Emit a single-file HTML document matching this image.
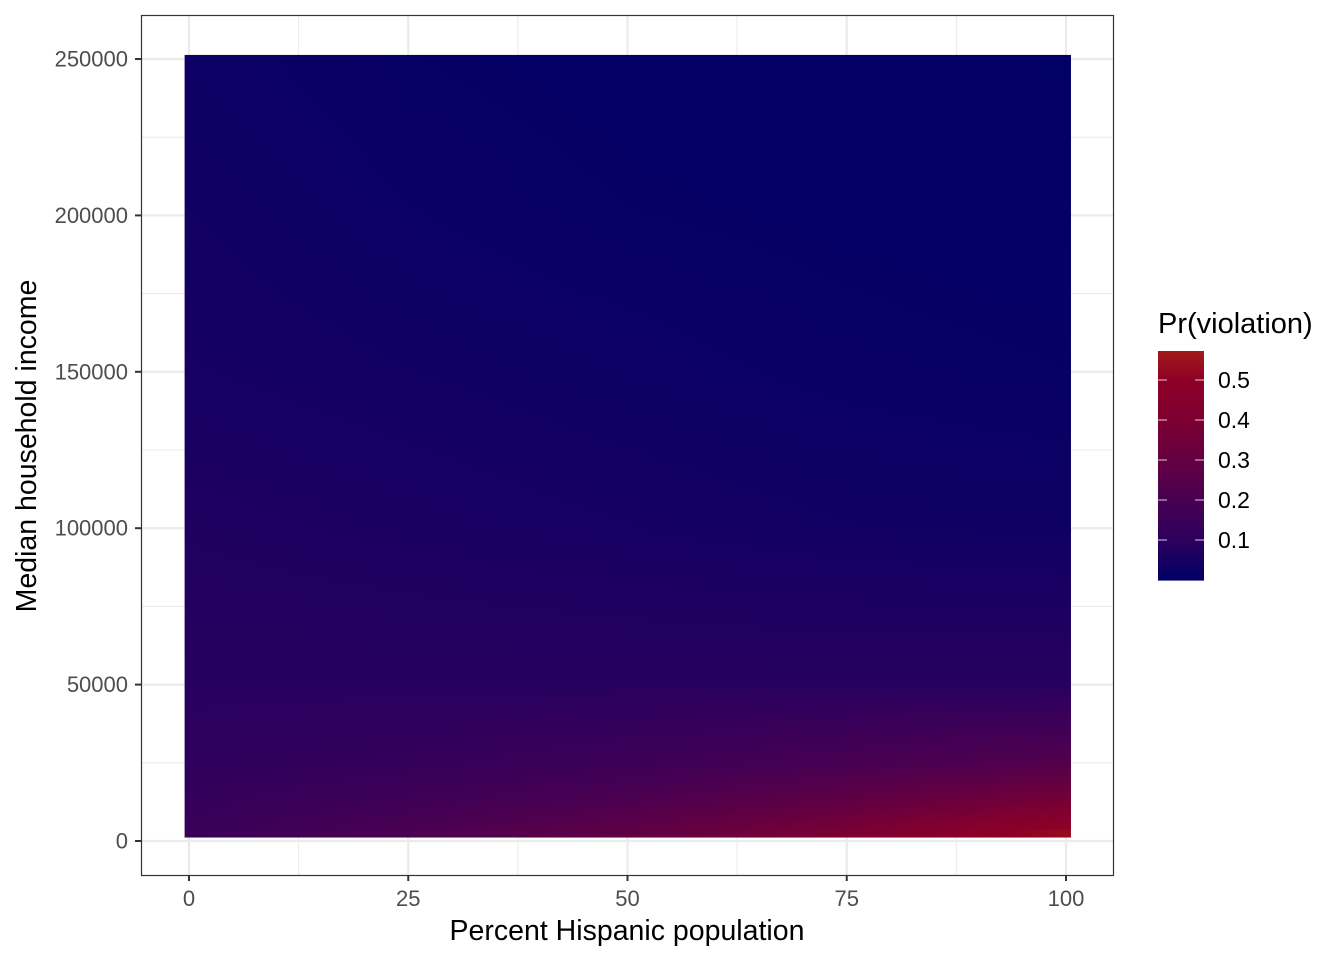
<!DOCTYPE html>
<html><head><meta charset="utf-8"><style>
body{margin:0;background:#fff;font-family:"Liberation Sans",Arial,sans-serif}
</style></head><body>
<svg id="chart" width="1344" height="960" xmlns="http://www.w3.org/2000/svg" font-family="Liberation Sans, Arial, sans-serif">
<rect width="1344" height="960" fill="#fff"/>
<g id="grid"></g>
<g id="tiles"></g>
<rect x="141.5" y="15.5" width="972" height="860" fill="none" stroke="#333" stroke-width="1.2"/>
<g id="axes"></g>
<text x="627" y="940" font-size="28.5" text-anchor="middle" fill="#000">Percent Hispanic population</text>
<text transform="translate(36,446) rotate(-90)" font-size="28.5" text-anchor="middle" fill="#000">Median household income</text>
<g id="legend">
<text x="1158" y="333" font-size="29" fill="#000">Pr(violation)</text>
</g>
</svg>
<script>
const xVals=[0,25,50,75,100];
const yVals=[0,12500,25000,50000,100000,150000,200000,250000];
const prob0=[0.15,0.22,0.30,0.42,0.57];
const prob12500=[0.13,0.17,0.22,0.29,0.38];
const prob25000=[0.11,0.13,0.16,0.20,0.24];
const prob50000=[0.09,0.09,0.09,0.09,0.09];
const prob100000=[0.07,0.06,0.05,0.04,0.035];
const prob150000=[0.05,0.04,0.03,0.02,0.015];
const prob200000=[0.04,0.025,0.015,0.01,0.006];
const prob250000=[0.03,0.015,0.008,0.005,0.003];
const xTicks=[0,25,50,75,100];
const yTicks=[0,50000,100000,150000,200000,250000];
const legendTicks=[0.1,0.2,0.3,0.4,0.5];
const rows=[prob0,prob12500,prob25000,prob50000,prob100000,prob150000,prob200000,prob250000];
const NS="http://www.w3.org/2000/svg";
const sx=v=>189+v*8.77;
const sy=v=>841-v*782/250000;
const stops=[[0,[0,0,102]],[0.1,[44,0,94]],[0.2,[72,0,82]],[0.3,[99,0,66]],[0.4,[124,0,50]],[0.5,[142,0,38]],[0.575,[162,26,26]]];
function col(p){
  for(let i=1;i<stops.length;i++){
    if(p<=stops[i][0]||i===stops.length-1){
      const a=stops[i-1],b=stops[i];let t=(p-a[0])/(b[0]-a[0]);t=Math.max(0,Math.min(1,t));
      return "rgb("+a[1].map((c,k)=>Math.round(c+(b[1][k]-c)*t)).join(",")+")";
    }
  }
}
function seg(arr,v){let i=0;while(i<arr.length-2&&v>arr[i+1])i++;let t=(v-arr[i])/(arr[i+1]-arr[i]);return [i,Math.max(0,Math.min(1,t))];}
function val(x,y){
  const [i,tx]=seg(xVals,x),[j,ty]=seg(yVals,y);
  const a=rows[j][i],b=rows[j][i+1],c=rows[j+1][i],d=rows[j+1][i+1];
  return (a*(1-tx)+b*tx)*(1-ty)+(c*(1-tx)+d*tx)*ty;
}
const grid=document.getElementById('grid');
function line(g,x1,y1,x2,y2,st,w){const l=document.createElementNS(NS,'line');l.setAttribute('x1',x1);l.setAttribute('y1',y1);l.setAttribute('x2',x2);l.setAttribute('y2',y2);l.setAttribute('stroke',st);l.setAttribute('stroke-width',w);g.appendChild(l);return l;}
for(let k=0;k<xTicks.length;k++){
  const gl=line(grid,sx(xTicks[k]),16,sx(xTicks[k]),875,'#ebebeb',2.2);
  
  
  if(k<xTicks.length-1){const m=line(grid,sx((xTicks[k]+xTicks[k+1])/2),16,sx((xTicks[k]+xTicks[k+1])/2),875,'#ebebeb',1.1);
  
  }
}
for(let k=0;k<yTicks.length;k++){
  const gl=line(grid,142,sy(yTicks[k]),1113,sy(yTicks[k]),'#ebebeb',2.2);
  
  
  if(k<yTicks.length-1){const m=line(grid,142,sy((yTicks[k]+yTicks[k+1])/2),1113,sy((yTicks[k]+yTicks[k+1])/2),'#ebebeb',1.1);
  
  }
}
const tiles=document.getElementById('tiles');
const nx=110,ny=100,x0=-0.5,x1=100.5,y0=1300,y1=251300;
for(let i=0;i<nx;i++){for(let j=0;j<ny;j++){
  const xa=x0+(x1-x0)*i/nx,xb=x0+(x1-x0)*(i+1)/nx,ya=y0+(y1-y0)*j/ny,yb=y0+(y1-y0)*(j+1)/ny;
  const r=document.createElementNS(NS,'rect');
  r.setAttribute('x',sx(xa));r.setAttribute('y',sy(yb));
  r.setAttribute('width',sx(xb)-sx(xa)+0.6);r.setAttribute('height',sy(ya)-sy(yb)+0.6);
  r.setAttribute('fill',col(val((xa+xb)/2,(ya+yb)/2)));
  
  
  tiles.appendChild(r);
}}
const axes=document.getElementById('axes');
function txt(g,x,y,s,anchor,size,fill){const t=document.createElementNS(NS,'text');t.setAttribute('x',x);t.setAttribute('y',y);t.setAttribute('text-anchor',anchor);t.setAttribute('font-size',size);t.setAttribute('fill',fill);t.textContent=s;g.appendChild(t);return t;}
xTicks.forEach(v=>{
  const t=line(axes,sx(v),875,sx(v),881,'#333',2);
  
  
  const l=txt(axes,sx(v),906,String(v),'middle',22,'#4d4d4d');
  
  
});
yTicks.forEach(v=>{
  const t=line(axes,135,sy(v),141,sy(v),'#333',2);
  
  
  const l=txt(axes,128,sy(v)+7.5,String(v),'end',22,'#4d4d4d');
  
  
});
const leg=document.getElementById('legend');
const lv=p=>580-p*400;
const lmax=0.5725;
for(let k=0;k<115;k++){
  const pa=lmax*k/115,pb=lmax*(k+1)/115;
  const r=document.createElementNS(NS,'rect');
  r.setAttribute('x',1158);r.setAttribute('y',lv(pb));r.setAttribute('width',46);r.setAttribute('height',lv(pa)-lv(pb)+0.6);
  r.setAttribute('fill',col((pa+pb)/2));
  
  
  leg.appendChild(r);
}
legendTicks.forEach(v=>{
  const a=line(leg,1158,lv(v),1167,lv(v),'#fff',1);a.setAttribute('opacity','0.8');
  
  
  const b=line(leg,1195,lv(v),1204,lv(v),'#fff',1);b.setAttribute('opacity','0.8');
  
  
  const l=txt(leg,1218,lv(v)+8,v.toFixed(1),'start',23,'#000');
  
  
});
</script>
</body></html>
